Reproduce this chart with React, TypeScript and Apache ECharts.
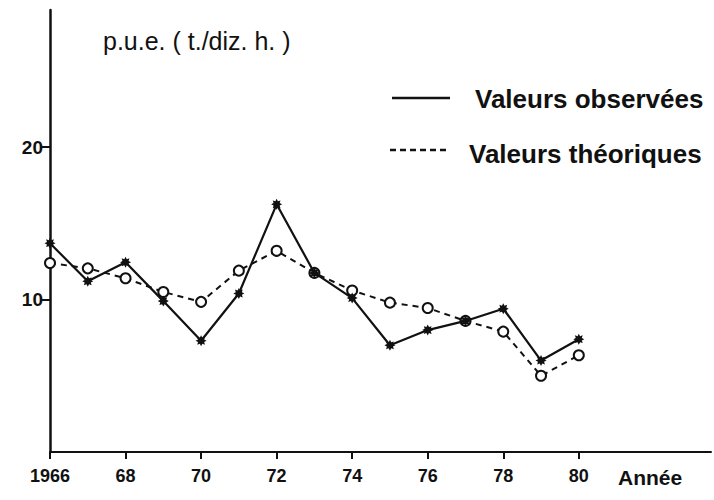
import React, { useEffect, useRef } from "react";
import * as echarts from "echarts";

const years = [1966, 1967, 1968, 1969, 1970, 1971, 1972, 1973, 1974, 1975, 1976, 1977, 1978, 1979, 1980];
const observed = [13.7, 11.2, 12.45, 9.9, 7.3, 10.4, 16.25, 11.75, 10.1, 7.0, 8.0, 8.6, 9.4, 6.0, 7.4];
const theoretical = [12.4, 12.05, 11.4, 10.5, 9.85, 11.9, 13.2, 11.75, 10.6, 9.8, 9.45, 8.6, 7.9, 5.0, 6.35];
const xTicks = [1966, 1968, 1970, 1972, 1974, 1976, 1978, 1980];
const yTicks = [10, 20];
const seriesNames = ["Valeurs observées", "Valeurs théoriques"];
const yTitle = "p.u.e. ( t./diz. h. )";
const xTitle = "Année";

function starPath(): string {
  const parts: string[] = [];
  for (let i = 0; i < 16; i++) {
    const a = (i * Math.PI) / 8 - Math.PI / 2;
    const r = i % 2 === 0 ? 10 : 6;
    const x = (10 + r * Math.cos(a)).toFixed(2);
    const y = (10 + r * Math.sin(a)).toFixed(2);
    parts.push((i === 0 ? "M" : "L") + x + " " + y);
  }
  return "path://" + parts.join(" ") + " Z";
}

const INK = "#111";
const FONT = '"Liberation Sans", Arial, sans-serif';

export default function App() {
  const ref = useRef<HTMLDivElement>(null);
  useEffect(() => {
    document.body.style.margin = "0";
    const chart = echarts.init(ref.current!, null, { renderer: "svg" });
    chart.setOption({
      animation: false,
      backgroundColor: "#fff",
      grid: { left: 50, right: 3, top: 10, bottom: 48 },
      xAxis: {
        type: "value",
        min: 1966,
        max: 1983.5,
        interval: 2,
        axisLine: { show: true, lineStyle: { color: INK, width: 2 } },
        axisTick: { show: true, length: 7, customValues: xTicks, lineStyle: { color: INK, width: 2 } },
        axisLabel: {
          customValues: xTicks,
          margin: 15,
          color: INK,
          fontFamily: FONT,
          fontWeight: "bold",
          fontSize: 18,
          formatter: (v: number) => (v === 1966 ? "1966" : String(v % 100)),
        },
        splitLine: { show: false },
      },
      yAxis: {
        type: "value",
        min: 0,
        max: 29,
        axisLine: { show: true, lineStyle: { color: INK, width: 2.5 } },
        axisTick: { show: true, length: 10, customValues: yTicks, lineStyle: { color: INK, width: 2 } },
        axisLabel: {
          customValues: yTicks,
          margin: 7,
          color: INK,
          fontFamily: FONT,
          fontWeight: "bold",
          fontSize: 19,
        },
        splitLine: { show: false },
      },
      series: [
        {
          name: seriesNames[0],
          type: "line",
          data: years.map((y, i) => [y, observed[i]]),
          symbol: starPath(),
          symbolSize: 11,
          itemStyle: { color: INK },
          lineStyle: { color: INK, width: 2.2 },
          z: 3,
        },
        {
          name: seriesNames[1],
          type: "line",
          data: years.map((y, i) => [y, theoretical[i]]),
          symbol: "circle",
          symbolSize: 10,
          itemStyle: { color: "#fff", borderColor: INK, borderWidth: 2 },
          lineStyle: { color: INK, width: 2, type: [6, 5] },
          z: 2,
        },
      ],
      graphic: [
        {
          type: "text",
          x: 103,
          y: 41,
          style: { text: yTitle, fontFamily: FONT, fontSize: 25, fill: INK, verticalAlign: "middle" },
        },
        {
          type: "line",
          shape: { x1: 392, y1: 98, x2: 450, y2: 98 },
          style: { stroke: INK, lineWidth: 2.5 },
        },
        {
          type: "text",
          x: 475,
          y: 99,
          style: { text: seriesNames[0], fontFamily: FONT, fontWeight: "bold", fontSize: 26, fill: INK, verticalAlign: "middle" },
        },
        {
          type: "line",
          shape: { x1: 390, y1: 150, x2: 447, y2: 150 },
          style: { stroke: INK, lineWidth: 2.5, lineDash: [6, 4] },
        },
        {
          type: "text",
          x: 469,
          y: 154,
          style: { text: seriesNames[1], fontFamily: FONT, fontWeight: "bold", fontSize: 26, fill: INK, verticalAlign: "middle" },
        },
        {
          type: "text",
          x: 618,
          y: 477,
          style: { text: xTitle, fontFamily: FONT, fontWeight: "bold", fontSize: 21, fill: INK, verticalAlign: "middle" },
        },
      ],
    });
    return () => chart.dispose();
  }, []);
  return <div ref={ref} style={{ width: 714, height: 500 }} />;
}
